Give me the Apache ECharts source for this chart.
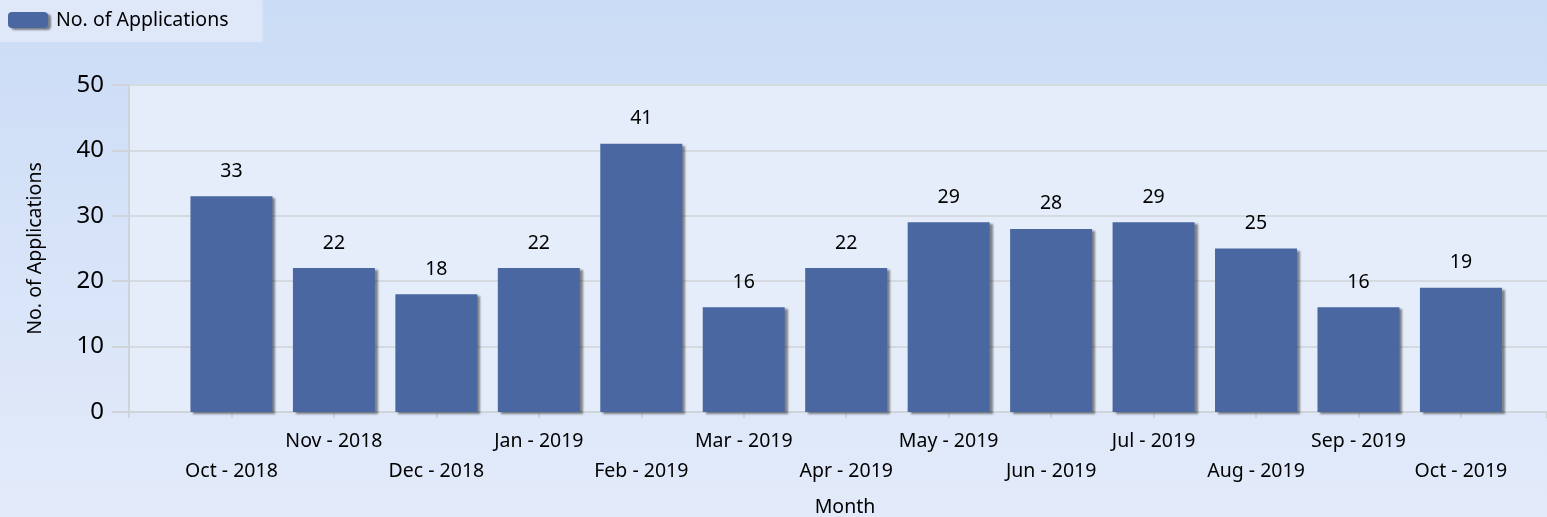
<!DOCTYPE html>
<html>
<head>
<meta charset="utf-8">
<script src="https://cdn.jsdelivr.net/npm/echarts@6/dist/echarts.min.js"></script>
<style>
html,body{margin:0;padding:0;background:#d6e3f8;}
#chart{width:1547px;height:517px;}
</style>
</head>
<body>
<div id="chart"></div>
<script>
const categories = ['Oct - 2018','Nov - 2018','Dec - 2018','Jan - 2019','Feb - 2019','Mar - 2019','Apr - 2019','May - 2019','Jun - 2019','Jul - 2019','Aug - 2019','Sep - 2019','Oct - 2019'];
const applications = [33,22,18,22,41,16,22,29,28,29,25,16,19];
const seriesName = 'No. of Applications';
const yMin = 0, yMax = 50, yStep = 10;

const FONT = 'Tahoma, "Noto Sans", "DejaVu Sans", sans-serif';
const FS = 19.5;
const chart = echarts.init(document.getElementById('chart'), null, {renderer:'canvas'});
const barData = applications.map((v,i)=>[i,v]);

chart.setOption({
  animation:false,
  backgroundColor:{type:'linear',x:0,y:0,x2:0,y2:1,colorStops:[{offset:0,color:'#cbdcf6'},{offset:1,color:'#e3ebfa'}]},
  textStyle:{fontFamily:FONT},
  legend:{
    left:0, top:0,
    padding:[10,34,12,8],
    backgroundColor:'#dfe8f9',
    itemWidth:40, itemHeight:16, itemGap:10,
    textStyle:{fontSize:FS,color:'#000',fontFamily:FONT,padding:[0,0,0,3]},
    itemStyle:{shadowColor:'rgba(0,0,0,0.45)',shadowOffsetX:3,shadowOffsetY:2,shadowBlur:2},
    data:[seriesName]
  },
  grid:{left:129,right:0,top:85,bottom:105,show:true,backgroundColor:'#e6edfa',borderWidth:0,outerBoundsMode:'none',containLabel:false},
  xAxis:{
    type:'value', min:-1, max:12.84, interval:1,
    name:'Month', nameLocation:'middle', nameGap:85,
    nameTextStyle:{fontSize:FS,color:'#000',fontFamily:FONT,padding:[0,0,0,14]},
    axisLine:{show:true,onZero:false,lineStyle:{color:'#cfd4db',width:2}},
    axisTick:{show:true,length:6,lineStyle:{color:'#cfd4db',width:2}},
    splitLine:{show:false},
    axisLabel:{
      fontSize:FS,color:'#000',fontFamily:FONT,lineHeight:30,margin:14,
      showMinLabel:true,showMaxLabel:true,
      formatter:function(v){
        const i = Math.round(v);
        if (Math.abs(v-i)>1e-6 || i<0 || i>=categories.length) return '';
        return i%2===0 ? '\n'+categories[i] : categories[i];
      }
    }
  },
  yAxis:{
    type:'value', min:yMin, max:yMax, interval:yStep,
    name:seriesName, nameLocation:'middle', nameGap:84,
    nameTextStyle:{fontSize:FS,color:'#000',fontFamily:FONT},
    axisLine:{show:true,onZero:false,lineStyle:{color:'#cfd4db',width:2}},
    axisTick:{show:true,length:17,lineStyle:{color:'#cfd4db',width:2}},
    splitLine:{show:true,lineStyle:{color:'#d5d9e0',width:2}},
    axisLabel:{fontSize:24,color:'#000',fontFamily:FONT,margin:25}
  },
  series:[{
    name:seriesName,
    type:'bar',
    data:barData,
    barWidth:82,
    itemStyle:{color:'#4a67a1',shadowColor:'rgba(0,0,0,0.45)',shadowOffsetX:3,shadowOffsetY:2,shadowBlur:2},
    label:{show:true,position:'top',distance:15,fontSize:FS,color:'#000',fontFamily:FONT,
      formatter:function(p){return p.value[1];}}
  }]
});
</script>
</body>
</html>
